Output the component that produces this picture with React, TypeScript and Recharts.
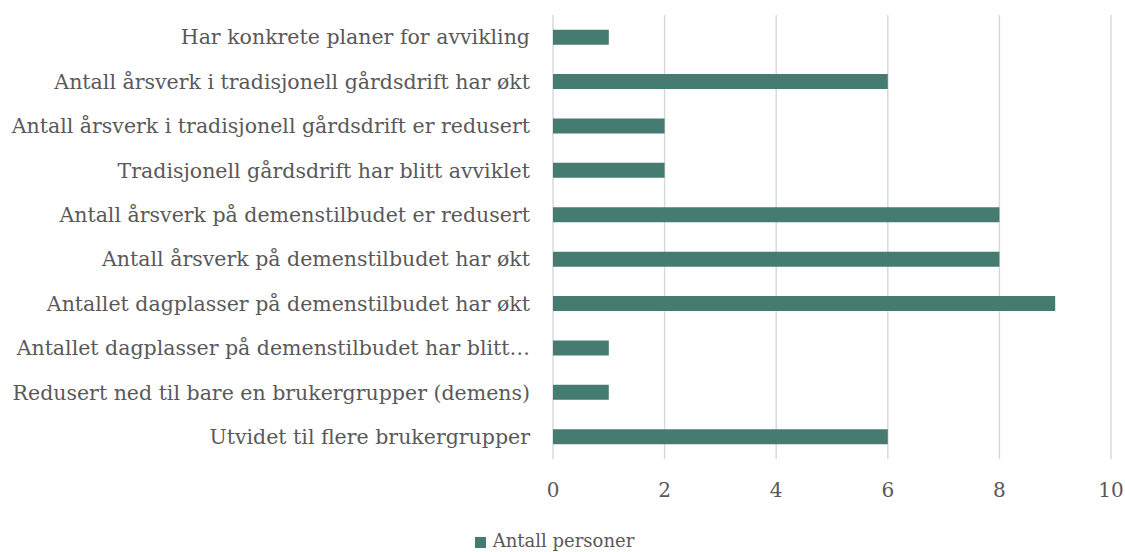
import { Bar, BarChart, CartesianGrid, Legend, XAxis, YAxis } from "recharts";

const categories = [
  "Har konkrete planer for avvikling",
  "Antall årsverk i tradisjonell gårdsdrift har økt",
  "Antall årsverk i tradisjonell gårdsdrift er redusert",
  "Tradisjonell gårdsdrift har blitt avviklet",
  "Antall årsverk på demenstilbudet er redusert",
  "Antall årsverk på demenstilbudet har økt",
  "Antallet dagplasser på demenstilbudet har økt",
  "Antallet dagplasser på demenstilbudet har blitt…",
  "Redusert ned til bare en brukergrupper (demens)",
  "Utvidet til flere brukergrupper",
];

const antallPersoner = [1, 6, 2, 2, 8, 8, 9, 1, 1, 6];

const xTicks = [0, 2, 4, 6, 8, 10];

const data = categories.map((name, i) => ({ name, value: antallPersoner[i] }));

const FONT = "'DejaVu Serif', Georgia, serif";
const TEXT = "#595959";
const BAR = "#467b72";

export default function App() {
  return (
    <div style={{ position: "absolute", left: 0, top: 0 }}>
      <BarChart
        width={1125}
        height={552}
        data={data}
        layout="vertical"
        margin={{ top: 15, right: 14, bottom: 0, left: 0 }}
        barCategoryGap="33%"
        style={{ fontFamily: FONT }}
      >
        <CartesianGrid horizontal={false} stroke="#d9d9d9" strokeWidth={1.5} />
        <XAxis
          type="number"
          domain={[0, 10]}
          ticks={xTicks}
          axisLine={false}
          tickLine={false}
          tickMargin={18}
          height={70}
          tick={{ fill: TEXT, fontSize: 20, fontFamily: FONT }}
        />
        <YAxis
          type="category"
          dataKey="name"
          width={553}
          axisLine={false}
          tickLine={false}
          tickMargin={17}
          interval={0}
          tick={{ fill: TEXT, fontSize: 20.5, fontFamily: FONT }}
        />
        <Legend
          verticalAlign="bottom"
          iconType="square"
          iconSize={11}
          wrapperStyle={{ fontFamily: FONT, fontSize: 19, lineHeight: "23px", paddingLeft: 4 }}
          formatter={(v) => (
            <span style={{ color: TEXT, fontFamily: FONT, fontSize: 18, marginLeft: 3 }}>{v}</span>
          )}
        />
        <Bar
          dataKey="value"
          name="Antall personer"
          fill={BAR}
          isAnimationActive={false}
        />
      </BarChart>
    </div>
  );
}
